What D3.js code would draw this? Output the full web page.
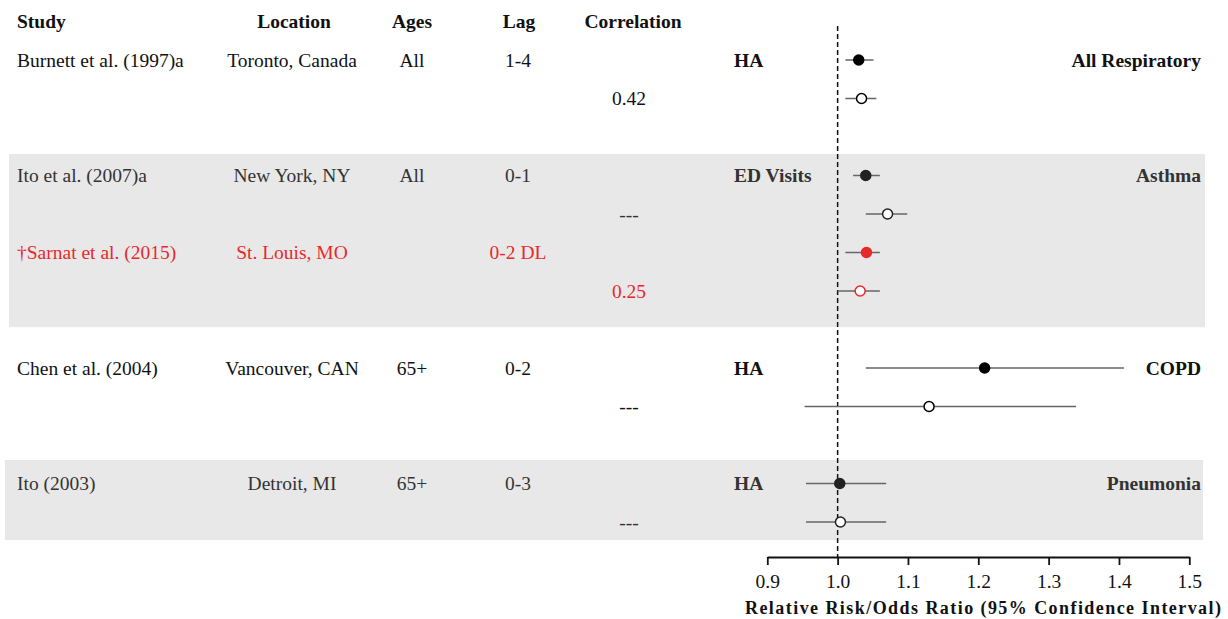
<!DOCTYPE html>
<html><head><meta charset="utf-8">
<script src="https://cdn.jsdelivr.net/npm/d3@7"></script>
<style>body{margin:0;background:#fff}svg{display:block;font-family:"Liberation Serif","Times New Roman",serif}</style>
</head><body><svg id="c" width="1228" height="619"></svg>
<script>
// ---- data ----
const headers = ["Study","Location","Ages","Lag","Correlation"];
const rowIndex = [0,1,3,4,5,6,8,9,11,12];
const studies = ["Burnett et al. (1997)a","","Ito et al. (2007)a","","\u2020Sarnat et al. (2015)","","Chen et al. (2004)","","Ito (2003)",""];
const locations = ["Toronto, Canada","","New York, NY","","St. Louis, MO","","Vancouver, CAN","","Detroit, MI",""];
const ages = ["All","","All","","","","65+","","65+",""];
const lags = ["1-4","","0-1","","0-2 DL","","0-2","","0-3",""];
const correlations = ["","0.42","","---","","0.25","","---","","---"];
const estimates = [1.030,1.034,1.040,1.071,1.041,1.032,1.209,1.130,1.003,1.004];
const lower = [1.011,1.011,1.022,1.040,1.011,1.000,1.040,0.953,0.955,0.955];
const upper = [1.051,1.055,1.060,1.099,1.060,1.060,1.407,1.339,1.069,1.069];
const filled = [true,false,true,false,true,false,true,false,true,false];
const highlighted = [false,false,false,false,true,true,false,false,false,false];
const shaded = [false,false,true,true,true,true,false,false,true,true];
const types = [{row:0,label:"HA"},{row:3,label:"ED Visits"},{row:8,label:"HA"},{row:11,label:"HA"}];
const outcomes = [{row:0,label:"All Respiratory"},{row:3,label:"Asthma"},{row:8,label:"COPD"},{row:11,label:"Pneumonia"}];
const bandRows = [[2.44,6.94,9,1205],[10.39,12.47,5,1203]];
const ticks = [0.9,1.0,1.1,1.2,1.3,1.4,1.5];
const axisTitle = "Relative Risk/Odds Ratio (95% Confidence Interval)";

// ---- drawing ----
const svg = d3.select("#c");
const x = d3.scaleLinear().domain([0.9,1.5]).range([767.3,1189.3]);
const y = d3.scaleLinear().domain([0,12]).range([60,522]);
const RED = "#e8282b", FS = 19.5;

svg.selectAll("rect.band").data(bandRows).join("rect")
  .attr("x",d=>d[2]).attr("width",d=>d[3]-d[2])
  .attr("y",d=>y(d[0])).attr("height",d=>y(d[1])-y(d[0])).attr("fill","#e8e8e8");

// headers
const hx = [17,294,412,519,633];
svg.selectAll("text.h").data(headers).join("text")
  .attr("x",(d,i)=>hx[i]).attr("y",21).attr("dy","0.35em")
  .attr("text-anchor",(d,i)=>i===0?"start":"middle")
  .attr("font-weight","bold").attr("font-size",FS).attr("fill","#111").text(d=>d);

const colColor = i => highlighted[i] ? RED : (shaded[i] ? "#333" : "#111");
const cols = [[studies,17,"start"],[locations,292,"middle"],[ages,412,"middle"],[lags,518,"middle"],[correlations,629,"middle"]];
cols.forEach(([arr,cx,anchor])=>{
  svg.append("g").selectAll("text").data(arr).join("text")
    .attr("x",cx).attr("y",(d,i)=>y(rowIndex[i])).attr("dy","0.35em")
    .attr("text-anchor",anchor).attr("font-size",FS)
    .attr("fill",(d,i)=>colColor(i)).text(d=>d);
});

svg.append("g").selectAll("text").data(types).join("text")
  .attr("x",734).attr("y",d=>y(d.row)).attr("dy","0.35em")
  .attr("font-weight","bold").attr("font-size",FS)
  .attr("fill",d=>(d.row===3||d.row===11)?"#333":"#111").text(d=>d.label);
svg.append("g").selectAll("text").data(outcomes).join("text")
  .attr("x",1201).attr("y",d=>y(d.row)).attr("dy","0.35em").attr("text-anchor","end")
  .attr("font-weight","bold").attr("font-size",FS)
  .attr("fill",d=>(d.row===3||d.row===11)?"#333":"#111").text(d=>d.label);

// reference line
svg.append("line").attr("x1",x(1)).attr("x2",x(1)).attr("y1",26).attr("y2",557)
  .attr("stroke","#111").attr("stroke-width",1.5).attr("stroke-dasharray","5,3");

// CIs and points
svg.append("g").selectAll("line").data(estimates).join("line")
  .attr("x1",(d,i)=>x(lower[i])).attr("x2",(d,i)=>x(upper[i]))
  .attr("y1",(d,i)=>y(rowIndex[i])).attr("y2",(d,i)=>y(rowIndex[i]))
  .attr("stroke","#666").attr("stroke-width",1.5);
svg.append("g").selectAll("circle").data(estimates).join("circle")
  .attr("cx",d=>x(d)).attr("cy",(d,i)=>y(rowIndex[i])).attr("r",5)
  .attr("fill",(d,i)=>filled[i]?(highlighted[i]?RED:(shaded[i]?"#222":"#000")):"#fff")
  .attr("stroke",(d,i)=>highlighted[i]?RED:(shaded[i]?"#222":"#000")).attr("stroke-width",1.5);

// axis
const ax = svg.append("g").attr("transform","translate(0,557)")
  .call(d3.axisBottom(x).tickValues(ticks).tickFormat(d3.format(".1f")).tickSizeInner(8).tickSizeOuter(0));
ax.select(".domain").attr("stroke","#111").attr("stroke-width",1.8);
ax.selectAll(".tick line").attr("stroke","#111").attr("stroke-width",1.8);
ax.selectAll(".tick text").attr("font-family","Liberation Serif").attr("font-size",FS).attr("fill","#111").attr("dy","0.35em").attr("y",24);

svg.append("text").attr("x",745).attr("y",608).attr("dy","0.35em").attr("text-anchor","start")
  .attr("font-weight","bold").attr("font-size",18).attr("fill","#111")
  .attr("textLength",476).attr("lengthAdjust","spacing").text(axisTitle);
</script></body></html>
